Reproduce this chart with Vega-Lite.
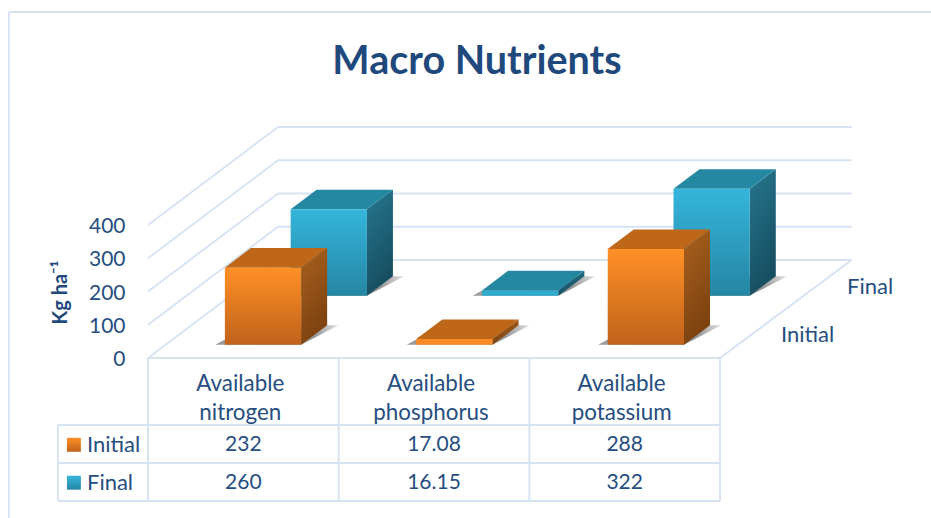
{
"$schema":"https://vega.github.io/schema/vega-lite/v6.json",
"width":931,"height":518,"padding":0,"autosize":"none","background":"white",
"config":{"view":{"stroke":null},"axisX":{"disable":true},"axisY":{"grid":false,"domain":false,"ticks":false,"labelPadding":0,"labelFont":"Lato","labelFontSize":21,"labelColor":"#264E80","labelOffset":1.5},"font":"Lato","text":{"font":"Lato","fontSize":22,"color":"#264E80"},"rule":{"color":"#D6E3F3","strokeWidth":1.9}},
"title":{"text":"Macro Nutrients","anchor":"middle","dx":11.5,"dy":86,"font":"Lato","fontSize":39.5,"fontWeight":"bold","color":"#1F497D"},
"datasets":{
"bars":[
{"nutrient":"Available nitrogen","series":"Initial","value":232},
{"nutrient":"Available phosphorus","series":"Initial","value":17.08},
{"nutrient":"Available potassium","series":"Initial","value":288},
{"nutrient":"Available nitrogen","series":"Final","value":260},
{"nutrient":"Available phosphorus","series":"Final","value":16.15},
{"nutrient":"Available potassium","series":"Final","value":322}],
"ticks":[{"tick":0},{"tick":100},{"tick":200},{"tick":300},{"tick":400}],
"one":[{"item":"frame"}]
},
"data":{"name":"bars"},
"transform":[
{"calculate":"indexof(['Available nitrogen','Available phosphorus','Available potassium'],datum.nutrient)","as":"c"},
{"calculate":"datum.series==='Initial'?0.135:0.635","as":"d"},
{"calculate":"datum.c*1.004+0.31+datum.d*0.69","as":"x0"},
{"calculate":"datum.x0+0.4","as":"x1"},
{"calculate":"datum.d*294.7","as":"y0"},
{"calculate":"datum.y0+datum.value","as":"y1"},
{"calculate":"[0,1]","as":"t"},
{"calculate":"split(datum.nutrient,' ')","as":"lines"},
{"calculate":"datum.c+0.5","as":"mid"},
{"calculate":"datum.series==='Initial'?-261:-375","as":"rowY"}
],
"layer":[
{"data":{"name":"ticks"},"transform":[{"calculate":"datum.tick+294.7","as":"back"}],"mark":"rule","encoding":{
"x":{"datum":0,"type":"quantitative","scale":{"domain":[-0.7762,4.1066],"nice":false,"zero":false}},
"x2":{"datum":0.682},
"y":{"field":"tick","type":"quantitative","scale":{"domain":[-481.2,1076.7],"nice":false,"zero":false},
"axis":{"values":[0,100,200,300,400],"orient":"left","offset":-125,"title":"Kg ha⁻¹","titleFont":"Lato","titleFontSize":20,"titleFontWeight":"bold","titleColor":"#1F497D","titleX":-65,"titleY":292,"titleAngle":-90,"titleAlign":"center","titleBaseline":"middle"}},
"y2":{"field":"back"}}},
{"data":{"name":"ticks"},"transform":[{"calculate":"datum.tick+294.7","as":"back"}],"mark":"rule","encoding":{
"x":{"datum":0.682,"type":"quantitative"},"x2":{"datum":3.69},
"y":{"field":"back","type":"quantitative"}}},
{"data":{"name":"one"},"mark":"rule","encoding":{"x":{"datum":3,"type":"quantitative"},"x2":{"datum":3.69},"y":{"datum":0,"type":"quantitative"},"y2":{"datum":294.7}}},
{"data":{"name":"one"},"mark":"rule","encoding":{"x":{"datum":-0.729,"type":"quantitative"},"x2":{"datum":4.1066},"y":{"datum":1040.6,"type":"quantitative"}}},
{"data":{"name":"one"},"mark":"rule","encoding":{"x":{"datum":-0.729,"type":"quantitative"},"y":{"datum":1040.6,"type":"quantitative"},"y2":{"datum":-481.2}}},
{"data":{"name":"one"},"mark":"rule","encoding":{"x":{"datum":0,"type":"quantitative"},"x2":{"datum":3},"y":{"datum":0,"type":"quantitative"}}},
{"data":{"name":"one"},"mark":"rule","encoding":{"x":{"datum":-0.472,"type":"quantitative"},"x2":{"datum":3},"y":{"datum":-201.5,"type":"quantitative"}}},
{"data":{"name":"one"},"mark":"rule","encoding":{"x":{"datum":-0.472,"type":"quantitative"},"x2":{"datum":3},"y":{"datum":-315.8,"type":"quantitative"}}},
{"data":{"name":"one"},"mark":"rule","encoding":{"x":{"datum":-0.472,"type":"quantitative"},"x2":{"datum":3},"y":{"datum":-430,"type":"quantitative"}}},
{"data":{"name":"one"},"mark":"rule","encoding":{"x":{"datum":-0.472,"type":"quantitative"},"y":{"datum":-201.5,"type":"quantitative"},"y2":{"datum":-430}}},
{"data":{"name":"one"},"mark":"rule","encoding":{"x":{"datum":3,"type":"quantitative"},"y":{"datum":0,"type":"quantitative"},"y2":{"datum":-430}}},
{"transform":[{"filter":"datum.series==='Initial'"}],"mark":"rule","encoding":{"x":{"field":"c","type":"quantitative"},"y":{"datum":0,"type":"quantitative"},"y2":{"datum":-430}}},

{"transform":[{"filter":"datum.series==='Final'"},{"flatten":["t"]},{"calculate":"datum.y0+datum.t*58.9","as":"sy"},{"calculate":"datum.x0-0.05+datum.t*0.186","as":"sa"},{"calculate":"datum.x1+datum.t*0.196","as":"sb"}],
"mark":{"type":"area","orient":"horizontal","fill":{"gradient":"linear","x1":0,"y1":0,"x2":1,"y2":0,"stops":[{"offset":0,"color":"#8a8a8a"},{"offset":0.8,"color":"#808080"},{"offset":1,"color":"#e0e0e0"}]},"opacity":0.85},
"encoding":{"y":{"field":"sy","type":"quantitative"},"x":{"field":"sa","type":"quantitative"},"x2":{"field":"sb"},"detail":{"field":"nutrient"}}},
{"transform":[{"filter":"datum.series==='Final'"},{"flatten":["t"]},{"calculate":"datum.x1+datum.t*0.1364","as":"sx"},{"calculate":"datum.y1+datum.t*58.9","as":"st"},{"calculate":"datum.y0+datum.t*58.9","as":"sb"}],
"mark":{"type":"area","orient":"vertical","fill":{"gradient":"linear","x1":0,"y1":0,"x2":0.3,"y2":1,"stops":[{"offset":0,"color":"#26778F"},{"offset":1,"color":"#174E60"}]}},
"encoding":{"x":{"field":"sx","type":"quantitative"},"y":{"field":"st","type":"quantitative"},"y2":{"field":"sb"},"detail":{"field":"nutrient"}}},
{"transform":[{"filter":"datum.series==='Final'"},{"flatten":["t"]},{"calculate":"datum.y1+datum.t*58.9","as":"ty"},{"calculate":"datum.x0+datum.t*0.1364","as":"ta"},{"calculate":"datum.x1+datum.t*0.1364","as":"tb"}],
"mark":{"type":"area","orient":"horizontal","fill":"#2588A3"},
"encoding":{"y":{"field":"ty","type":"quantitative"},"x":{"field":"ta","type":"quantitative"},"x2":{"field":"tb"},"detail":{"field":"nutrient"}}},
{"transform":[{"filter":"datum.series==='Final'"}],
"mark":{"type":"rect"},
"encoding":{"x":{"field":"x0","type":"quantitative"},"x2":{"field":"x1"},"y":{"field":"y1","type":"quantitative"},"y2":{"field":"y0"},
"color":{"condition":{"test":"datum.value<50","value":"#30ABD0"},"value":{"gradient":"linear","x1":0,"y1":0,"x2":0,"y2":1,"stops":[{"offset":0,"color":"#35B5DB"},{"offset":1,"color":"#2586A4"}]}}}},

{"transform":[{"filter":"datum.series==='Initial'"},{"flatten":["t"]},{"calculate":"datum.y0+datum.t*58.9","as":"sy"},{"calculate":"datum.x0-0.05+datum.t*0.186","as":"sa"},{"calculate":"datum.x1+datum.t*0.196","as":"sb"}],
"mark":{"type":"area","orient":"horizontal","fill":{"gradient":"linear","x1":0,"y1":0,"x2":1,"y2":0,"stops":[{"offset":0,"color":"#8a8a8a"},{"offset":0.8,"color":"#808080"},{"offset":1,"color":"#e0e0e0"}]},"opacity":0.85},
"encoding":{"y":{"field":"sy","type":"quantitative"},"x":{"field":"sa","type":"quantitative"},"x2":{"field":"sb"},"detail":{"field":"nutrient"}}},
{"transform":[{"filter":"datum.series==='Initial'"},{"flatten":["t"]},{"calculate":"datum.x1+datum.t*0.1364","as":"sx"},{"calculate":"datum.y1+datum.t*58.9","as":"st"},{"calculate":"datum.y0+datum.t*58.9","as":"sb"}],
"mark":{"type":"area","orient":"vertical","fill":{"gradient":"linear","x1":0,"y1":0,"x2":0.3,"y2":1,"stops":[{"offset":0,"color":"#A9611E"},{"offset":1,"color":"#7C4210"}]}},
"encoding":{"x":{"field":"sx","type":"quantitative"},"y":{"field":"st","type":"quantitative"},"y2":{"field":"sb"},"detail":{"field":"nutrient"}}},
{"transform":[{"filter":"datum.series==='Initial'"},{"flatten":["t"]},{"calculate":"datum.y1+datum.t*58.9","as":"ty"},{"calculate":"datum.x0+datum.t*0.1364","as":"ta"},{"calculate":"datum.x1+datum.t*0.1364","as":"tb"}],
"mark":{"type":"area","orient":"horizontal","fill":"#BE6719"},
"encoding":{"y":{"field":"ty","type":"quantitative"},"x":{"field":"ta","type":"quantitative"},"x2":{"field":"tb"},"detail":{"field":"nutrient"}}},
{"transform":[{"filter":"datum.series==='Initial'"}],
"mark":{"type":"rect"},
"encoding":{"x":{"field":"x0","type":"quantitative"},"x2":{"field":"x1"},"y":{"field":"y1","type":"quantitative"},"y2":{"field":"y0"},
"color":{"condition":{"test":"datum.value<50","value":"#FA8B26"},"value":{"gradient":"linear","x1":0,"y1":0,"x2":0,"y2":1,"stops":[{"offset":0,"color":"#FF9027"},{"offset":1,"color":"#C0621A"}]}}}},

{"transform":[{"filter":"datum.series==='Initial'"},{"calculate":"datum.mid-0.016","as":"labelX"}],"mark":{"type":"text","lineHeight":29,"fontSize":22.4},"encoding":{"x":{"field":"labelX","type":"quantitative"},"y":{"datum":-78,"type":"quantitative"},"text":{"field":"lines"}}},
{"mark":{"type":"text","fontSize":21},"encoding":{"x":{"field":"mid","type":"quantitative"},"y":{"field":"rowY","type":"quantitative"},"text":{"field":"value","type":"nominal"}}},
{"transform":[{"filter":"datum.c===0"}],"mark":{"type":"text","align":"left"},"encoding":{"x":{"datum":-0.32,"type":"quantitative"},"y":{"field":"rowY","type":"quantitative"},"text":{"field":"series"}}},
{"transform":[{"filter":"datum.c===0"},{"calculate":"3.32+(datum.d-0.135)*0.692","as":"lx"},{"calculate":"69+(datum.d-0.135)*289","as":"ly"}],"mark":{"type":"text","align":"left"},"encoding":{"x":{"field":"lx","type":"quantitative"},"y":{"field":"ly","type":"quantitative"},"text":{"field":"series"}}},
{"transform":[{"filter":"datum.c===0"},{"calculate":"datum.rowY-21","as":"k1"},{"calculate":"datum.rowY+21","as":"k0"}],
"mark":{"type":"rect"},
"encoding":{"x":{"datum":-0.425,"type":"quantitative"},"x2":{"datum":-0.352},"y":{"field":"k0","type":"quantitative"},"y2":{"field":"k1"},
"color":{"condition":{"test":"datum.series==='Initial'","value":{"gradient":"linear","x1":0,"y1":0,"x2":0,"y2":1,"stops":[{"offset":0,"color":"#FF9027"},{"offset":1,"color":"#C0621A"}]}},"value":{"gradient":"linear","x1":0,"y1":0,"x2":0,"y2":1,"stops":[{"offset":0,"color":"#35B5DB"},{"offset":1,"color":"#2586A4"}]}}}}
]
}
